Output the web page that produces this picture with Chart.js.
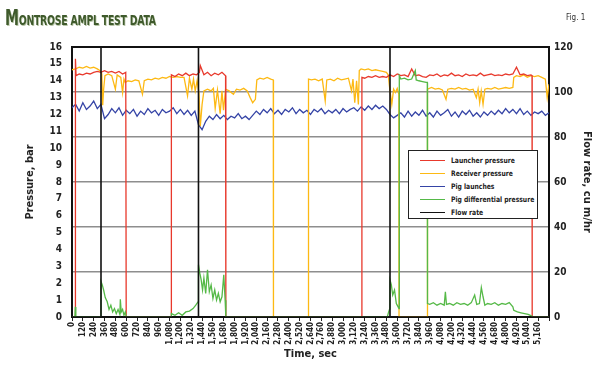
<!DOCTYPE html>
<html>
<head>
<meta charset="utf-8">
<script src="https://cdn.jsdelivr.net/npm/chart.js@4.4.1/dist/chart.umd.min.js"></script>
<style>
  body { margin: 0; background: #fff; }
  #wrap { position: relative; width: 600px; height: 368px; }
  #titre {
    position: absolute; left: 5px; top: 6px;
    font-family: "Liberation Sans Narrow", "DejaVu Sans Condensed", sans-serif;
    font-weight: bold; color: #3f5a2c; font-size: 14px; letter-spacing: -0.3px;
    text-shadow: 1px 1px 0 #b9c7a8; white-space: nowrap;
    transform: scaleX(0.74); transform-origin: left top;
  }
  #titre .grand { font-size: 21px; }
  #fig {
    position: absolute; left: 566px; top: 13px;
    font-family: "Liberation Sans Narrow", "DejaVu Sans Condensed", sans-serif;
    font-size: 8px; color: #333;
  }
  #legende {
    position: absolute; left: 408px; top: 150px; width: 128px; height: 64px;
    border: 1.5px solid #222; background: #fff; padding-top: 3px;
    font-family: "Liberation Sans Narrow", "DejaVu Sans Condensed", sans-serif;
    font-weight: bold; font-size: 7.5px; color: #222; white-space: nowrap;
  }
  #legende .ligne { height: 13px; display: flex; align-items: center; }
  #legende .trait { width: 25px; height: 1.5px; margin: 0 6px 0 11px; flex: none; }
  #legende .nom { display: inline-block; transform: scaleX(0.9); transform-origin: left center; }
</style>
</head>
<body>
<div id="wrap">
  <canvas id="pigChart" width="600" height="368"></canvas>
  <div id="titre"><span class="grand">M</span>ONTROSE AMPL TEST DATA</div>
  <div id="fig">Fig. 1</div>
  <div id="legende"></div>
</div>
<script>
// temps en secondes, pressions en bar, débit en m3/h
const launcherTime = [0, 37, 38, 45, 80, 120, 160, 200, 240, 280, 320, 360, 400, 440, 480, 520, 560, 595, 600,
  1098, 1100, 1140, 1180, 1220, 1260, 1300, 1340, 1380, 1410, 1420, 1460, 1500, 1540, 1580, 1620, 1660, 1700, 1703,
  3207, 3209, 3240, 3280, 3320, 3360, 3400, 3440, 3480, 3520, 3560, 3600, 3640, 3680, 3720, 3760, 3800, 3840, 3880,
  3920, 3960, 4000, 4040, 4080, 4120, 4160, 4200, 4240, 4280, 4320, 4360, 4400, 4440, 4480, 4520, 4560, 4600, 4640,
  4680, 4720, 4760, 4800, 4840, 4880, 4920, 4960, 5000, 5040, 5080, 5092, 5094, 5280];
const launcherBar = [0, 0, 15.3, 14.3, 14.4, 14.35, 14.45, 14.4, 14.5, 14.55, 14.5, 14.6, 14.5, 14.55, 14.45, 14.55, 14.4, 14.5, 0,
  0, 14.35, 14.25, 14.4, 14.3, 14.45, 14.3, 14.4, 14.35, 14.5, 14.9, 14.35, 14.5, 14.3, 14.45, 14.35, 14.5, 14.3, 0,
  0, 14.2, 14.15, 14.25, 14.2, 14.3, 14.2, 14.25, 14.2, 14.35, 14.25, 14.4, 14.3, 14.35, 14.25, 14.7, 14.3, 14.35, 14.25,
  14.2, 14.35, 14.3, 14.4, 14.25, 14.35, 14.3, 14.45, 14.3, 14.35, 14.25, 14.4, 14.3, 14.35, 14.3, 14.45, 14.3, 14.35, 14.4,
  14.3, 14.35, 14.3, 14.4, 14.35, 14.4, 14.8, 14.35, 14.4, 14.3, 14.35, 14.3, 0, 0];

const receiverTime = [0, 40, 80, 120, 160, 200, 240, 280, 310, 330, 340, 350, 365, 400, 440, 480, 500, 540, 560, 575, 590,
  620, 660, 700, 740, 780, 800, 840, 880, 920, 960, 1000, 1040, 1080, 1120, 1160, 1200, 1240, 1279, 1300, 1327, 1345,
  1364, 1385, 1405, 1420, 1440, 1460, 1500, 1540, 1565, 1585, 1610, 1640, 1660, 1677, 1700, 1740, 1787, 1820, 1860,
  1900, 1940, 1972, 2000, 2030, 2046, 2080, 2120, 2160, 2200, 2228, 2230, 2613, 2618, 2650, 2690, 2730, 2770, 2803,
  2820, 2860, 2900, 2940, 2980, 3020, 3060, 3094, 3110, 3130, 3150, 3170, 3180, 3200, 3240, 3280, 3320, 3360, 3400,
  3440, 3480, 3500, 3520, 3540, 3560, 3580, 3600, 3618, 3620, 3933, 3935, 3980, 4020, 4060, 4100, 4140, 4160, 4200,
  4240, 4280, 4320, 4360, 4400, 4440, 4476, 4495, 4513, 4530, 4550, 4570, 4600, 4640, 4680, 4720, 4760, 4800, 4840,
  4880, 4890, 4920, 4960, 5000, 5040, 5080, 5120, 5160, 5200, 5240, 5260, 5280];
const receiverBar = [14.65, 14.7, 14.8, 14.75, 14.85, 14.75, 14.8, 14.7, 14.6, 14.4, 12.55, 13.5, 14.3, 14.4, 14.3, 13.5, 14.35, 14.2, 13.3, 14.1, 13.9,
  14.0, 13.95, 14.05, 14.0, 13.2, 14.0, 14.1, 14.05, 14.15, 14.1, 14.2, 14.15, 14.25, 14.2, 14.25, 14.2, 14.2, 13.1, 14.15, 13.5, 14.1,
  13.4, 14.0, 13.3, 11.3, 12.6, 13.4, 13.5, 13.4, 13.55, 12.35, 13.45, 12.05, 13.4, 12.25, 13.5, 13.4, 13.2, 13.5, 13.45,
  13.55, 13.4, 13.0, 12.7, 12.9, 14.05, 14.15, 14.1, 14.2, 14.1, 14.05, 0, 0, 14.1, 14.05, 14.1, 14.0, 14.1, 12.8,
  14.05, 14.1, 14.0, 14.15, 14.05, 14.1, 14.15, 13.4, 14.1, 12.7, 14.0, 12.6, 14.6, 14.7, 14.65, 14.7, 14.6, 14.65, 14.6,
  14.55, 14.5, 14.35, 13.4, 12.6, 13.5, 13.3, 13.55, 13.2, 0, 0, 13.5, 13.6, 13.5, 13.55, 13.45, 12.9, 13.5, 13.55,
  13.5, 13.6, 13.5, 13.55, 13.45, 13.5, 13.0, 13.5, 12.7, 13.4, 12.6, 13.5, 13.55, 13.5, 13.6, 13.5, 13.55, 13.6, 13.55,
  13.6, 14.2, 14.3, 14.25, 14.35, 14.2, 14.3, 14.25, 14.3, 14.2, 14.1, 13.0, 13.8];

const launchesTime = [0, 40, 80, 120, 160, 200, 240, 280, 320, 360, 400, 440, 480, 520, 560, 600, 640, 680, 720, 760,
  800, 840, 880, 920, 960, 1000, 1040, 1080, 1120, 1160, 1200, 1240, 1280, 1320, 1360, 1400, 1440, 1480, 1520, 1560,
  1600, 1640, 1680, 1720, 1760, 1800, 1840, 1880, 1920, 1960, 2000, 2040, 2080, 2120, 2160, 2200, 2240, 2280, 2320, 2360,
  2400, 2440, 2480, 2520, 2560, 2600, 2640, 2680, 2720, 2760, 2800, 2840, 2880, 2920, 2960, 3000, 3040, 3080, 3120, 3160,
  3200, 3240, 3280, 3320, 3360, 3400, 3440, 3480, 3520, 3560, 3600, 3640, 3680, 3720, 3760, 3800, 3840, 3880, 3920, 3960,
  4000, 4040, 4080, 4120, 4160, 4200, 4240, 4280, 4320, 4360, 4400, 4440, 4480, 4520, 4560, 4600, 4640, 4680, 4720, 4760,
  4800, 4840, 4880, 4920, 4960, 5000, 5040, 5080, 5120, 5160, 5200, 5240, 5280];
const launchesBar = [12.4, 12.6, 12.2, 12.7, 12.3, 12.5, 12.8, 12.35, 12.6, 11.75, 12.0, 12.35, 12.1, 12.4, 11.95, 12.25, 12.05, 12.3, 11.9, 12.2,
  12.0, 12.35, 12.1, 12.25, 11.95, 12.3, 12.1, 12.2, 12.4, 12.05, 12.3, 12.0, 12.25, 11.95, 12.2, 11.4, 11.1, 11.6, 11.9, 11.7,
  12.0, 11.75, 11.95, 11.7, 11.9, 11.8, 12.05, 11.75, 11.9, 11.7, 11.95, 12.2, 12.0, 12.3, 12.1, 12.35, 12.05, 12.25, 12.0, 12.3,
  12.15, 12.4, 12.05, 12.3, 12.1, 12.25, 12.0, 12.3, 12.15, 12.35, 12.05, 12.25, 12.1, 12.3, 12.05, 12.35, 12.15, 12.3, 12.4, 12.2,
  12.45, 12.25, 12.5, 12.3, 12.55, 12.35, 12.5, 12.3, 12.0, 11.8, 11.95, 12.1, 11.85, 12.2, 11.9, 12.15, 11.95, 12.25, 11.9, 12.1,
  11.85, 12.2, 11.95, 12.1, 12.3, 11.9, 12.15, 11.85, 12.2, 12.0, 12.25, 11.9, 12.1, 11.85, 12.15, 11.95, 12.2, 12.0, 12.25, 12.05,
  12.35, 12.1, 12.3, 12.05, 12.35, 12.0, 12.2, 11.95, 12.15, 12.05, 12.2, 11.95, 12.1];

const diffTime = [0, 32, 37, 42, 321, 322, 335, 350, 368, 390, 410, 430, 450, 470, 490, 510, 530, 535, 545, 560, 575, 590, 600, 605,
  1098, 1100, 1140, 1180, 1220, 1260, 1300, 1340, 1370, 1395, 1400, 1415, 1430, 1445, 1460, 1480, 1500, 1520, 1540, 1560,
  1580, 1600, 1620, 1640, 1660, 1680, 1695, 1703, 3490, 3505, 3518, 3520, 3535, 3550, 3570, 3590, 3610, 3620, 3623, 3640,
  3680, 3720, 3760, 3800, 3810, 3840, 3880, 3920, 3933, 3935, 3960, 4000, 4040, 4080, 4120, 4133, 4145, 4180, 4220, 4260,
  4300, 4340, 4380, 4420, 4457, 4480, 4510, 4531, 4550, 4570, 4600, 4640, 4680, 4720, 4760, 4800, 4840, 4880, 4890, 4930,
  4970, 5010, 5050, 5090, 5100, 5280];
const diffBar = [0, 0, 0.6, 0, 0, 2.1, 1.9, 1.6, 1.15, 0.9, 0.45, 0.7, 0.3, 0.5, 0.2, 0.45, 0.15, 1.05, 0.3, 0.45, 0.1, 0.3, 0.05, 0,
  0, 0.2, 0.1, 0.25, 0.1, 0.3, 0.35, 0.5, 0.7, 0.9, 3.1, 2.6, 2.2, 1.6, 2.3, 1.4, 2.8, 1.5, 1.9, 1.1,
  1.6, 1.0, 1.4, 0.9, 1.2, 2.5, 1.0, 0, 0, 0.3, 0.5, 2.2, 1.9, 1.3, 1.6, 0.8, 0.6, 0.5, 14.3, 14.1,
  14.15, 14.05, 14.1, 14.6, 14.05, 14.0, 13.95, 13.9, 13.9, 0.8, 0.75, 0.85, 0.7, 0.8, 0.7, 1.5, 0.75, 0.8, 0.7, 0.85,
  0.75, 0.8, 0.7, 0.85, 1.3, 0.75, 0.8, 1.75, 1.2, 0.7, 0.8, 0.75, 0.85, 0.7, 0.8, 0.75, 0.85, 0.6, 0.4, 0.3,
  0.25, 0.2, 0.15, 0.05, 0, 0];

const flowTime = [0, 321, 321, 321, 1400, 1400, 1400, 3520, 3520, 3520, 5280];
const flowRate = [0, 0, 120, 0, 0, 120, 0, 0, 120, 0, 0];

const seriesLabels = ['Launcher pressure', 'Receiver pressure', 'Pig launches', 'Pig differential pressure', 'Flow rate'];

const police = "'Liberation Sans Narrow', 'DejaVu Sans Condensed', sans-serif";

function points(t, v) {
    return t.map((x, i) => ({ x: x, y: v[i] }));
}

const ctx = document.getElementById('pigChart');

const chart = new Chart(ctx, {
    type: 'line',
    data: {
        datasets: [
            { label: seriesLabels[0], data: points(launcherTime, launcherBar), borderColor: '#e8392c', yAxisID: 'y', order: 2 },
            { label: seriesLabels[1], data: points(receiverTime, receiverBar), borderColor: '#fdb913', yAxisID: 'y', order: 3 },
            { label: seriesLabels[2], data: points(launchesTime, launchesBar), borderColor: '#3544a6', yAxisID: 'y', order: 4 },
            { label: seriesLabels[3], data: points(diffTime, diffBar), borderColor: '#55b947', yAxisID: 'y', order: 1 },
            { label: seriesLabels[4], data: points(flowTime, flowRate), borderColor: '#111', borderWidth: 1.6, yAxisID: 'y1', order: 0 },
        ]
    },
    options: {
        responsive: false,
        animation: false,
        devicePixelRatio: 1,
        layout: { padding: { top: 47 } },
        elements: {
            point: { radius: 0 },
            line: { borderWidth: 1.3, tension: 0 }
        },
        scales: {
            x: {
                type: 'linear',
                min: 0,
                max: 5280,
                afterFit: (s) => { s.height = 51; },
                ticks: {
                    stepSize: 120,
                    autoSkip: false,
                    minRotation: 90,
                    maxRotation: 90,
                    padding: 1,
                    color: '#222',
                    font: { family: police, size: 8, weight: 'bold' },
                    callback: (v) => v === 5280 ? '' : v.toLocaleString('en-US'),
                },
                grid: { display: true, drawOnChartArea: false, drawTicks: true, tickLength: 4, color: '#222' },
                border: { display: true, color: '#111', width: 2 },
                title: {
                    display: true, text: 'Time, sec', color: '#222',
                    font: { family: police, size: 11, weight: 'bold' },
                    padding: { top: 0, bottom: 7 },
                },
            },
            y: {
                position: 'left',
                min: 0,
                max: 16,
                afterFit: (s) => { s.width = 72; },
                ticks: {
                    stepSize: 1,
                    padding: 10,
                    color: '#222',
                    font: { family: police, size: 10, weight: 'bold' },
                },
                grid: { display: false, drawTicks: false },
                border: { display: true, color: '#111', width: 2 },
                title: {
                    display: true, text: 'Pressure, bar', color: '#222',
                    font: { family: police, size: 11, weight: 'bold' },
                    padding: { top: 24, bottom: 0 },
                },
            },
            y1: {
                position: 'right',
                min: 0,
                max: 120,
                afterFit: (s) => { s.width = 51; },
                ticks: {
                    stepSize: 20,
                    padding: 5,
                    color: '#222',
                    font: { family: police, size: 10, weight: 'bold' },
                },
                grid: {
                    drawTicks: false,
                    color: (c) => (c.tick && (c.tick.value === 120)) ? '#111' : '#8e8e8e',
                    lineWidth: (c) => (c.tick && (c.tick.value === 120)) ? 2 : 1.5,
                },
                border: { display: true, color: '#111', width: 2 },
                title: {
                    display: true, text: 'Flow rate, cu m/hr', color: '#222',
                    font: { family: police, size: 11, weight: 'bold' },
                    padding: { top: 7, bottom: 0 },
                },
            },
        },
        plugins: {
            legend: { display: false },
            tooltip: { enabled: false },
        }
    }
});

// légende dans le cadre, comme sur la figure
const leg = document.getElementById('legende');
for (const ds of chart.data.datasets) {
    const row = document.createElement('div');
    row.className = 'ligne';
    row.innerHTML = '<span class="trait" style="background:' + ds.borderColor + '"></span><span class="nom">' + ds.label + '</span>';
    leg.appendChild(row);
}
</script>
</body>
</html>
